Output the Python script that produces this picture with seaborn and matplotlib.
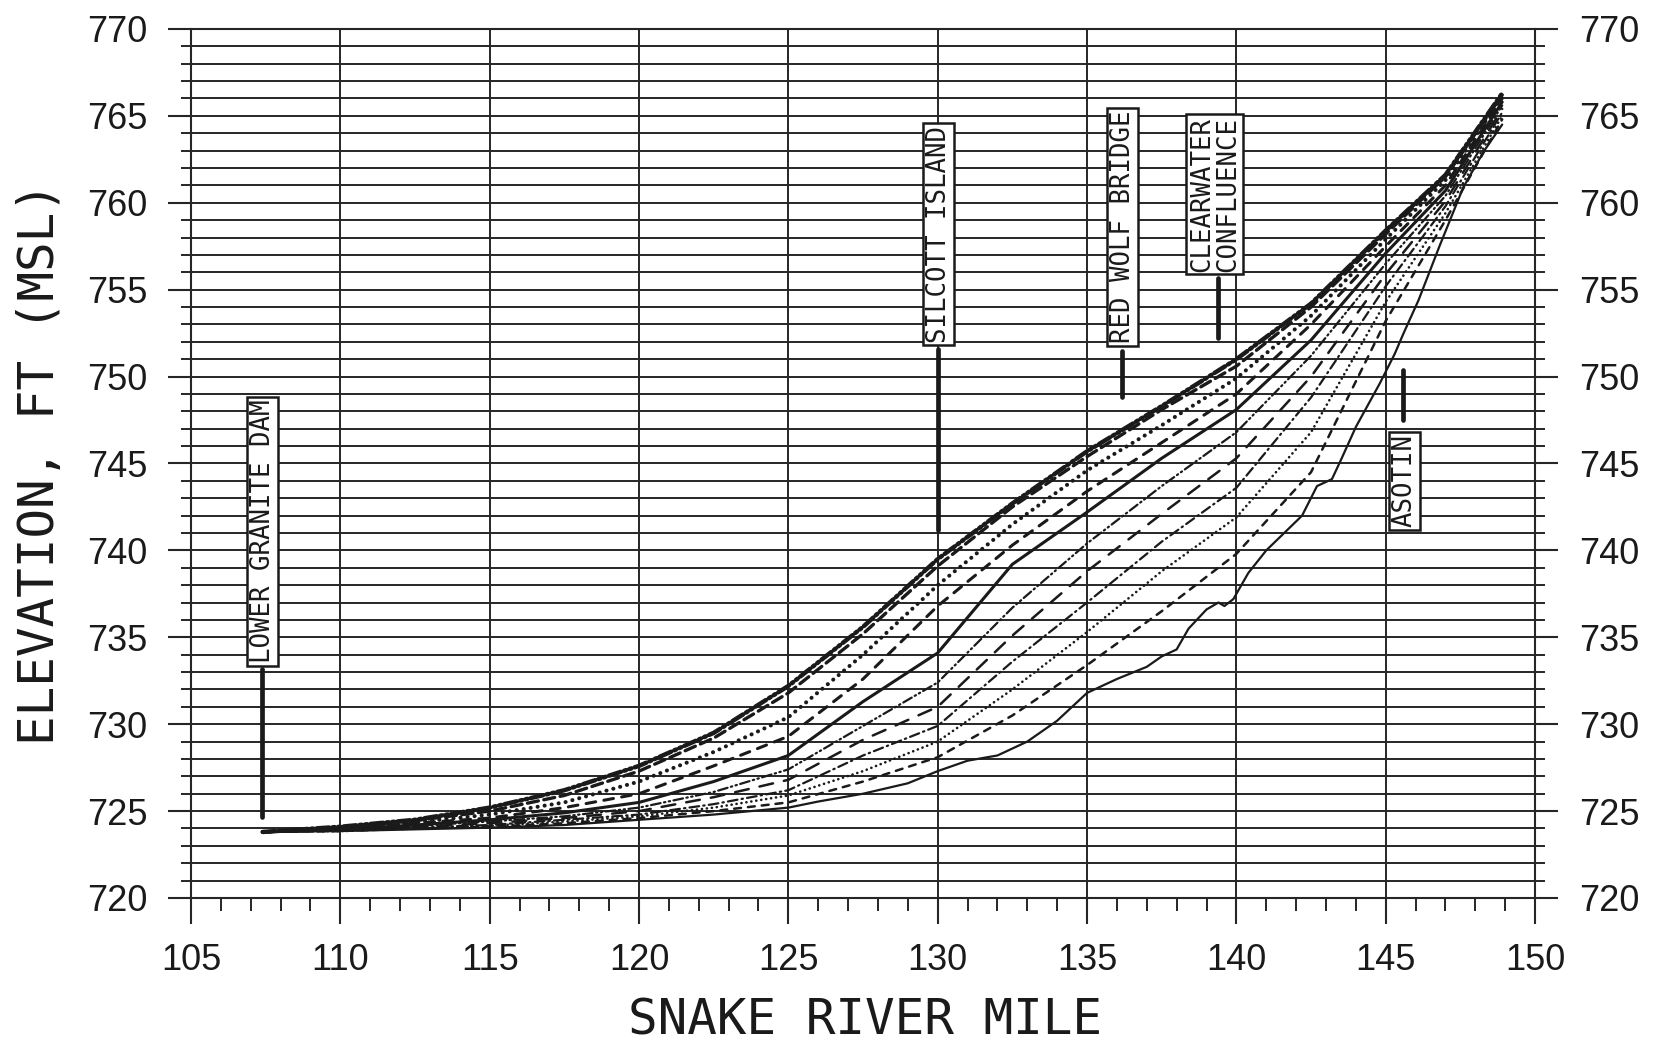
import matplotlib
matplotlib.use("Agg")
import matplotlib.pyplot as plt
from matplotlib import font_manager
from matplotlib.ticker import MultipleLocator
import seaborn as sns
import pandas as pd

# ---------------- data ----------------
miles = [107.4, 110, 112.5, 115, 117.5, 120, 122.5, 125, 127.5, 130,
         132.5, 135, 137.5, 140, 142.5, 145, 147, 148.9]

c1_dash_dot_heavy = [723.8, 724.1, 724.5, 725.2, 726.2, 727.6, 729.5, 732.2, 735.6, 739.5,
                     742.7, 745.7, 748.3, 751.0, 754.2, 758.4, 761.6, 766.3]
c2_long_dash_heavy = [723.8, 724.05, 724.45, 725.0, 725.9, 727.3, 729.2, 731.8, 735.2, 739.1,
                      742.5, 745.4, 748.1, 750.6, 754.0, 758.2, 761.5, 766.2]
c3_dotted_heavy = [723.8, 724.0, 724.35, 724.8, 725.5, 726.7, 728.4, 730.4, 734.0, 738.0,
                   741.5, 744.6, 747.2, 749.9, 753.5, 757.9, 761.3, 766.1]
c4_dashed = [723.8, 723.95, 724.3, 724.6, 725.2, 726.0, 727.6, 729.3, 732.6, 736.8,
             740.3, 743.4, 746.2, 749.0, 753.0, 757.5, 761.0, 766.0]
c5_solid = [723.8, 723.95, 724.2, 724.5, 724.9, 725.5, 726.7, 728.2, 731.3, 734.1,
            739.2, 742.2, 745.3, 748.1, 752.1, 757.1, 760.7, 765.8]
c6_dash_dot_dot = [723.8, 723.9, 724.15, 724.4, 724.7, 725.2, 726.1, 727.4, 729.9, 732.4,
                   736.7, 740.4, 743.7, 746.8, 751.2, 756.5, 760.4, 765.6]
c7_long_dash = [723.8, 723.9, 724.1, 724.3, 724.6, 725.0, 725.8, 726.8, 729.1, 731.0,
                735.1, 738.8, 742.1, 745.3, 750.0, 755.9, 760.1, 765.4]
c8_dash_dot = [723.8, 723.9, 724.05, 724.2, 724.5, 724.8, 725.4, 726.2, 728.2, 729.9,
               733.6, 737.0, 740.5, 743.6, 748.8, 755.2, 759.8, 765.2]
c9_dotted = [723.8, 723.85, 724.0, 724.15, 724.4, 724.7, 725.2, 725.9, 727.3, 729.0,
             732.0, 735.3, 738.8, 741.9, 746.8, 754.3, 759.4, 765.0]
c10_dashed = [723.8, 723.85, 724.0, 724.1, 724.3, 724.6, 725.0, 725.5, 726.7, 728.1,
              730.5, 733.4, 736.5, 739.8, 744.5, 753.2, 759.0, 764.8]

bottom_miles = [107.4, 110, 112.5, 115, 117.5, 120, 122.5, 125, 126, 127.5, 129, 130, 131,
                132, 133, 134, 135, 136, 137, 137.5, 138, 138.4, 139, 139.4, 139.6, 139.9,
                140.4, 141, 141.6, 142.2, 142.7, 143.2, 143.5, 144, 144.8, 145.3, 145.6,
                146.1, 146.8, 147.6, 148.3, 148.9]
c11_solid_bottom = [723.8, 723.85, 723.95, 724.05, 724.2, 724.5, 724.8, 725.2, 725.55, 726.0,
                    726.6, 727.3, 727.9, 728.2, 729.0, 730.2, 731.8, 732.6, 733.3, 733.9,
                    734.3, 735.5, 736.6, 737.0, 736.8, 737.2, 738.7, 740.0, 741.0, 742.0,
                    743.7, 744.1, 745.2, 747.1, 749.6, 751.3, 752.5, 754.4, 757.5, 760.9,
                    763.0, 764.5]

landmark_names = ["LOWER GRANITE DAM", "SILCOTT ISLAND", "RED WOLF BRIDGE",
                  "CLEARWATER\nCONFLUENCE", "ASOTIN"]
landmark_miles = [107.4, 130.03, 136.2, 139.28, 145.64]
label_elev = [741.1, 758.2, 758.6, 760.5, 744.0]
marker_mile = [107.38, 130.0, 136.17, 139.38, 145.57]
marker_top = [733.2, 751.6, 751.5, 755.7, 750.4]
marker_bottom = [724.66, 741.2, 748.8, 752.2, 747.5]

x_ticks = [105, 110, 115, 120, 125, 130, 135, 140, 145, 150]
y_ticks = [720, 725, 730, 735, 740, 745, 750, 755, 760, 765, 770]

# ---------------- styling ----------------
sns.set_theme(style="white")
avail = {f.name for f in font_manager.fontManager.ttflist}
if "Liberation Sans Narrow" in avail:
    tick_font, tick_size = "Liberation Sans Narrow", 31
else:
    tick_font, tick_size = "Liberation Sans", 26
plt.rcParams["font.family"] = ["DejaVu Sans"]
plt.rcParams["lines.scale_dashes"] = False

INK = "#1a1a1a"
GRID = "#262626"

fig = plt.figure(figsize=(16.54, 10.45), dpi=100)
fig.patch.set_facecolor("white")
ax = fig.add_axes([0.11548, 0.14067, 0.8126, 0.8316])
ax.set_facecolor("white")

curves = [
    (miles, c1_dash_dot_heavy, 3.2, (0, (9, 2.5, 1.5, 2.5, 1.5, 2.5))),
    (miles, c2_long_dash_heavy, 2.4, (0, (8, 4))),
    (miles, c3_dotted_heavy, 2.9, (0, (0.1, 5.0))),
    (miles, c4_dashed, 2.2, (0, (7, 6))),
    (miles, c5_solid, 2.2, "-"),
    (miles, c6_dash_dot_dot, 1.6, (0, (7, 2.5, 1, 2.5, 1, 2.5))),
    (miles, c7_long_dash, 1.8, (0, (10, 8))),
    (miles, c8_dash_dot, 1.6, (0, (7, 3, 1, 3))),
    (miles, c9_dotted, 1.9, (0, (0.1, 3.5))),
    (miles, c10_dashed, 1.8, (0, (5, 5))),
    (bottom_miles, c11_solid_bottom, 1.6, "-"),
]

for xs, ys, lw, ls in curves:
    df = pd.DataFrame({"mile": xs, "elev": ys})
    sns.lineplot(data=df, x="mile", y="elev", ax=ax, color=INK, linewidth=lw,
                 linestyle=ls, sort=False, estimator=None, legend=False,
                 dash_capstyle="round", solid_capstyle="round", zorder=3)

# landmark markers and boxed labels
for name, lx, ly, mx, mt, mb in zip(landmark_names, landmark_miles, label_elev,
                                      marker_mile, marker_top, marker_bottom):
    ax.plot([mx, mx], [mb, mt], color=INK, lw=3.4, solid_capstyle="round", zorder=4)
    ax.text(lx, ly, name, rotation=90, ha="center", va="center",
            family="DejaVu Sans Mono", fontsize=18.5, color=INK, linespacing=1.0,
            zorder=5,
            bbox=dict(boxstyle="square,pad=0.1", facecolor="white",
                      edgecolor=INK, linewidth=1.8))

# axes, ticks, grid
ax.set_xlim(105, 150)
ax.set_ylim(720, 770)
ax.set_xticks(x_ticks)
ax.set_yticks(y_ticks)
ax.xaxis.set_minor_locator(MultipleLocator(1))
ax.yaxis.set_minor_locator(MultipleLocator(1))
ax.grid(which="major", axis="both", color=GRID, linewidth=1.4, zorder=1)
ax.grid(which="minor", axis="y", color=GRID, linewidth=1.4, zorder=1)
ax.set_axisbelow(True)

for sp in ax.spines.values():
    sp.set_visible(True)
    sp.set_color(GRID)
    sp.set_linewidth(1.5)

ax.tick_params(axis="y", which="major", direction="out", length=16.5, width=1.5,
               color=GRID, left=True, right=True, labelleft=True, labelright=True,
               pad=15, labelsize=tick_size, labelcolor=INK)
ax.tick_params(axis="y", which="minor", direction="out", length=7.5, width=1.4,
               color=GRID, left=True, right=True)
ax.tick_params(axis="x", which="major", direction="out", length=18.5, width=1.5,
               color=GRID, bottom=True, top=False, pad=14, labelsize=tick_size,
               labelcolor=INK)
ax.tick_params(axis="x", which="minor", direction="out", length=9.5, width=1.4,
               color=GRID, bottom=True, top=False)
ax.set_xticklabels([str(v) for v in x_ticks], family=tick_font)
ax.set_yticklabels([str(v) for v in y_ticks], family=tick_font)
ax.yaxis.set_tick_params(labelright=True)

ax.set_xlabel("")
ax.set_ylabel("")
fig.text(0.5232, 0.023, "SNAKE RIVER MILE", ha="center", va="center",
         family="DejaVu Sans Mono", fontsize=35.5, color=INK)
fig.text(0.024, 0.556, "ELEVATION, FT (MSL)", ha="center", va="center", rotation=90,
         family="DejaVu Sans Mono", fontsize=35.5, color=INK)

fig.savefig("out.png", dpi=100, facecolor="white")
